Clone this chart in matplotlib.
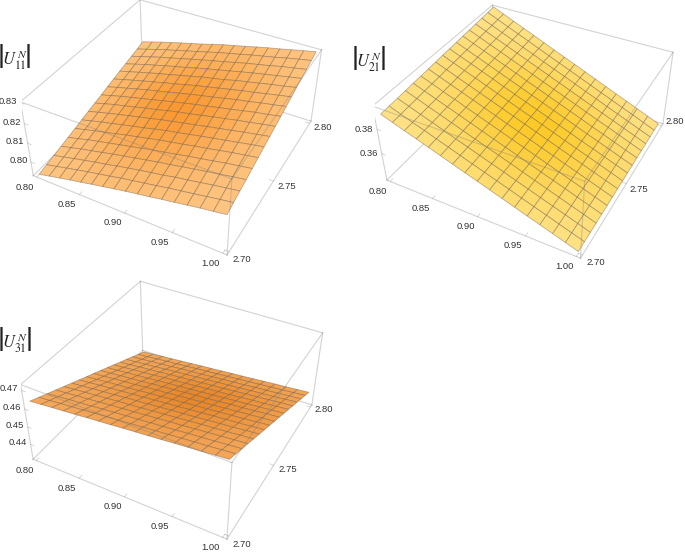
import numpy as np, matplotlib
matplotlib.use('Agg')
import matplotlib.pyplot as plt
from mpl_toolkits.mplot3d import proj3d

plt.rcParams['font.family'] = ['Liberation Sans', 'DejaVu Sans']
plt.rcParams['mathtext.fontset'] = 'stix'

x_ticks = [0.80, 0.85, 0.90, 0.95, 1.00]
y_ticks = [2.70, 2.75, 2.80]
z_ticks_11 = [0.80, 0.81, 0.82, 0.83]
z_ticks_21 = [0.36, 0.38]
z_ticks_31 = [0.44, 0.45, 0.46, 0.47]
x_grid = [0.8 + 0.0125 * k for k in range(17)]
y_grid = [2.7 + 0.00625 * k for k in range(17)]

# rows: x index, columns: y index, units 1e-4
U11 = [
[7926,7937,7947,7957,7967,7978,7988,7999,8009,8019,8030,8040,8051,8060,8071,8081,8092],
[7940,7950,7960,7971,7981,7992,8002,8013,8024,8034,8045,8055,8065,8075,8086,8096,8107],
[7953,7964,7974,7986,7996,8006,8016,8027,8039,8049,8059,8069,8080,8091,8101,8111,8122],
[7966,7977,7987,7998,8009,8019,8029,8041,8051,8062,8073,8083,8094,8104,8116,8126,8136],
[7978,7990,8000,8011,8021,8032,8042,8054,8064,8075,8087,8096,8108,8118,8129,8139,8150],
[7991,8002,8012,8024,8034,8046,8055,8067,8078,8088,8099,8110,8120,8131,8142,8153,8163],
[8003,8014,8025,8036,8046,8058,8067,8079,8090,8101,8112,8122,8134,8144,8156,8166,8176],
[8015,8027,8037,8048,8059,8071,8081,8093,8104,8114,8125,8136,8147,8158,8169,8180,8191],
[8027,8038,8049,8060,8071,8083,8094,8104,8116,8127,8138,8149,8161,8171,8182,8194,8205],
[8038,8049,8060,8072,8082,8094,8105,8116,8127,8139,8150,8161,8172,8183,8194,8206,8217],
[8048,8060,8070,8082,8093,8105,8116,8127,8139,8150,8161,8173,8183,8195,8207,8218,8229],
[8060,8072,8083,8094,8106,8117,8128,8139,8151,8162,8174,8185,8197,8208,8220,8231,8242],
[8070,8082,8093,8105,8116,8127,8139,8150,8162,8173,8186,8197,8208,8220,8231,8242,8254],
[8081,8092,8104,8116,8127,8139,8150,8161,8174,8185,8196,8207,8219,8231,8242,8253,8265],
[8092,8103,8115,8126,8139,8150,8161,8173,8184,8197,8208,8219,8231,8242,8255,8266,8277],
[8101,8114,8125,8137,8148,8160,8172,8183,8195,8206,8218,8230,8241,8253,8265,8277,8289],
[8111,8123,8135,8146,8158,8170,8182,8194,8205,8217,8229,8241,8253,8264,8276,8288,8300],
]
U21 = [
[3910,3915,3919,3924,3929,3933,3938,3943,3948,3952,3957,3962,3966,3971,3976,3980,3985],
[3877,3881,3886,3890,3895,3899,3903,3908,3912,3916,3921,3925,3929,3934,3938,3943,3947],
[3844,3848,3852,3856,3860,3864,3868,3872,3877,3881,3885,3889,3893,3897,3901,3905,3909],
[3812,3816,3819,3823,3827,3831,3834,3838,3842,3846,3849,3853,3857,3861,3864,3868,3872],
[3779,3782,3786,3789,3793,3796,3800,3803,3807,3810,3813,3817,3820,3824,3827,3831,3834],
[3746,3749,3752,3755,3759,3762,3765,3768,3771,3774,3777,3781,3784,3787,3790,3793,3796],
[3713,3716,3719,3721,3724,3727,3730,3733,3736,3738,3741,3744,3747,3750,3752,3755,3758],
[3680,3683,3685,3688,3690,3693,3695,3698,3700,3703,3705,3708,3710,3713,3715,3718,3720],
[3648,3650,3652,3655,3657,3659,3661,3663,3666,3668,3670,3672,3674,3676,3679,3681,3683],
[3615,3617,3619,3621,3623,3624,3626,3628,3630,3632,3634,3636,3638,3639,3641,3643,3645],
[3582,3584,3585,3587,3588,3590,3591,3593,3595,3596,3598,3599,3601,3602,3604,3605,3607],
[3549,3550,3552,3553,3554,3555,3557,3558,3559,3560,3562,3563,3564,3565,3567,3568,3569],
[3516,3517,3518,3519,3520,3521,3522,3523,3524,3524,3525,3526,3527,3528,3529,3530,3531],
[3484,3485,3485,3486,3487,3487,3488,3488,3489,3490,3490,3491,3492,3492,3493,3493,3494],
[3451,3451,3452,3452,3452,3453,3453,3453,3454,3454,3454,3454,3455,3455,3455,3456,3456],
[3418,3418,3418,3418,3418,3418,3418,3418,3418,3418,3418,3418,3418,3418,3418,3418,3418],
[3385,3385,3384,3384,3384,3383,3383,3383,3382,3382,3382,3382,3381,3381,3381,3380,3380],
]
U31 = [
[4637,4617,4597,4577,4557,4537,4517,4497,4478,4458,4438,4418,4398,4378,4358,4338,4318],
[4642,4622,4602,4582,4562,4542,4522,4502,4482,4462,4442,4422,4402,4382,4362,4342,4322],
[4648,4628,4608,4588,4568,4548,4528,4508,4488,4468,4448,4428,4408,4388,4368,4348,4328],
[4653,4633,4613,4593,4573,4553,4533,4513,4493,4472,4452,4432,4412,4392,4372,4352,4332],
[4658,4638,4618,4598,4578,4558,4538,4517,4497,4477,4457,4437,4417,4397,4377,4357,4337],
[4664,4644,4624,4604,4584,4564,4543,4523,4503,4483,4463,4443,4423,4403,4383,4362,4342],
[4669,4649,4629,4609,4588,4568,4548,4528,4508,4488,4468,4447,4427,4407,4387,4367,4347],
[4674,4654,4634,4613,4593,4573,4553,4533,4513,4492,4472,4452,4432,4412,4391,4371,4351],
[4680,4659,4639,4619,4599,4578,4558,4538,4518,4498,4477,4457,4437,4417,4396,4376,4356],
[4685,4665,4644,4624,4604,4584,4563,4543,4523,4503,4482,4462,4442,4422,4401,4381,4361],
[4690,4670,4649,4629,4609,4588,4568,4548,4528,4507,4487,4467,4446,4426,4406,4385,4365],
[4695,4675,4654,4634,4614,4593,4573,4553,4532,4512,4492,4471,4451,4431,4410,4390,4370],
[4701,4681,4660,4640,4620,4599,4579,4558,4538,4518,4497,4477,4457,4436,4416,4395,4375],
[4706,4686,4665,4645,4624,4604,4584,4563,4543,4522,4502,4482,4461,4441,4420,4400,4380],
[4711,4691,4670,4650,4629,4609,4588,4568,4548,4527,4507,4486,4466,4445,4425,4404,4384],
[4717,4697,4676,4656,4635,4615,4594,4574,4553,4533,4512,4492,4471,4451,4430,4410,4389],
[4722,4702,4681,4661,4640,4620,4599,4579,4558,4538,4517,4497,4476,4456,4435,4415,4394],
]

FW, FH = 685, 553
panels = [
    dict(z=U11, zt=z_ticks_11, zlim=(0.7925, 0.8305), lab=r'$U_{11}^{\,N}$', lxy=(14.5, 60), bars=(1.5, 28),
         cam=(38.40, -61.56, 0.02, 0.4319, 0.4349), pos=(21.55, 283.81, 305.47),
         edge=(1.0, 0.78, 0.52), mid=(0.98, 0.60, 0.20), c=(0.45, 0.5),
         yoff=[(13, 8), (13, 5), (13, 4)], zoff=(-12.5, -1.5)),
    dict(z=U21, zt=z_ticks_21, zlim=(0.337, 0.398), lab=r'$U_{21}^{\,N}$', lxy=(369, 62), bars=(355, 383),
         cam=(38.06, -61.18, 0.74, 0.4106, 0.4356), pos=(374.61, 280.91, 304.41),
         edge=(1.0, 0.89, 0.55), mid=(0.99, 0.79, 0.15), c=(0.5, 0.45),
         yoff=[(13, 8), (13, 6), (13, -4)], zoff=(-13, 0)),
    dict(z=U31, zt=z_ticks_31, zlim=(0.431, 0.473), lab=r'$U_{31}^{\,N}$', lxy=(15, 343), bars=(1.5, 29),
         cam=(38.75, -61.60, -0.16, 0.4437, 0.4402), pos=(21.14, -0.19, 306.81),
         edge=(0.96, 0.66, 0.36), mid=(0.91, 0.53, 0.16), c=(0.55, 0.5),
         yoff=[(13, 8), (14, 4), (13, 2)], zoff=(-12.5, -1.5)),
]
XLIM = (0.796, 1.004)
YLIM = (2.698, 2.802)
LINE = (0.5, 0.5, 0.5, 0.35)
TXT = '#333333'

fig = plt.figure(figsize=(FW / 100, FH / 100), dpi=100, facecolor='white')

for p in panels:
    l, b, W = p['pos']
    ax = fig.add_axes([l / FW, b / FH, W / FW, W / FH], projection='3d', computed_zorder=False)
    e, a, r, f, za = p['cam']
    ax.set_box_aspect((1, 1, za))
    ax.view_init(e, a, r)
    ax.set_proj_type('persp', focal_length=f)
    x0, x1 = XLIM; y0, y1 = YLIM; z0, z1 = p['zlim']
    ax.set_xlim(x0, x1); ax.set_ylim(y0, y1); ax.set_zlim(z0, z1)
    ax.set_axis_off()
    ax.patch.set_alpha(0)

    back = [((x0, y1, z0), (x0, y1, z1)), ((x0, y0, z0), (x0, y1, z0)), ((x0, y1, z0), (x1, y1, z0)),
            ((x0, y0, z1), (x0, y1, z1)), ((x0, y1, z1), (x1, y1, z1))]
    front = [((x0, y0, z0), (x0, y0, z1)), ((x1, y0, z0), (x1, y0, z1)), ((x1, y1, z0), (x1, y1, z1)),
             ((x0, y0, z1), (x1, y0, z1)), ((x1, y0, z1), (x1, y1, z1)),
             ((x0, y0, z0), (x1, y0, z0)), ((x1, y0, z0), (x1, y1, z0))]
    for segs, zo in ((back, 1), (front, 4)):
        for s, t in segs:
            ax.plot(*zip(s, t), color=LINE, lw=0.8, zorder=zo)

    X, Y = np.meshgrid(x_grid, y_grid, indexing='ij')
    Z = np.array(p['z']) / 1e4
    n = Z.shape[0]
    I, J = np.meshgrid(np.linspace(0, 1, n), np.linspace(0, 1, n), indexing='ij')
    d2 = (I - p['c'][0]) ** 2 + (J - p['c'][1]) ** 2
    t = np.exp(-d2 * 6)[..., None]
    cols = np.array(p['edge']) * (1 - t) + np.array(p['mid']) * t
    ax.plot_surface(X, Y, Z, rstride=1, cstride=1, facecolors=cols, shade=False,
                    edgecolor=(0.38, 0.32, 0.26, 0.42), linewidth=0.6, antialiased=True, zorder=2)

    M = ax.get_proj()
    xspan, yspan = x1 - x0, y1 - y0
    def label(xd, yd, zd, s, off):
        u, v, _ = proj3d.proj_transform(xd, yd, zd, M)
        ax.annotate(s, xy=(u, v), xytext=(off[0] * 0.72, -off[1] * 0.72), textcoords='offset points',
                    ha='center', va='center', fontsize=6.8, color=TXT, annotation_clip=False, zorder=6)
    for v in x_ticks:
        ax.plot([v, v], [y0, y0 + 0.02 * yspan], [z0, z0], color=LINE, lw=0.6, zorder=4)
        label(v, y0, z0, f'{v:.2f}', (-12, 10))
    for v, o in zip(y_ticks, p['yoff']):
        ax.plot([x1, x1 - 0.02 * xspan], [v, v], [z0, z0], color=LINE, lw=0.6, zorder=4)
        label(x1, v, z0, f'{v:.2f}', o)
    for v in p['zt']:
        ax.plot([x0, x0 + 0.02 * xspan], [y0, y0], [v, v], color=LINE, lw=0.6, zorder=4)
        label(x0, y0, v, f'{v:.2f}', p['zoff'])

    yc = 1 - p['lxy'][1] / FH
    fig.text(p['lxy'][0] / FW, yc, p['lab'], fontsize=12, color='#222222', ha='center', va='center')
    for xb in p['bars']:
        fig.text(xb / FW, yc, '|', fontsize=25, family='STIXGeneral', color='#222222', ha='center', va='center')

fig.savefig('out.png', dpi=100)
